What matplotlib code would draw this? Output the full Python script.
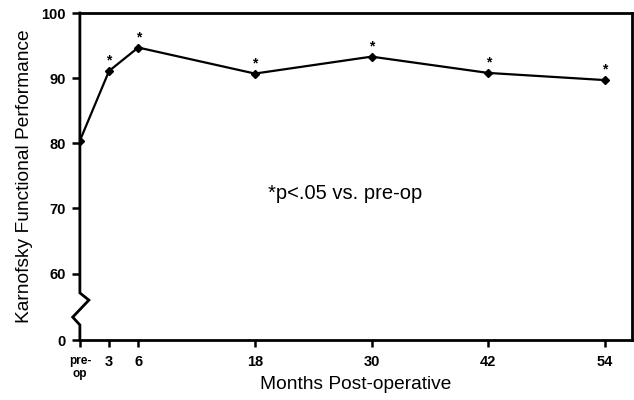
import numpy as np
from matplotlib import pyplot as plt

plt.rcParams['font.family'] = 'sans-serif'
plt.rcParams['font.sans-serif'] = ['Liberation Sans', 'DejaVu Sans']

# Karnofsky score at each follow-up (months after surgery, 0 = pre-op)
months = [0, 3, 6, 18, 30, 42, 54]
kps = [80.4, 91.1, 94.7, 90.7, 93.3, 90.8, 89.7]
significant = [False, True, True, True, True, True, True]

x_ticks = [0, 3, 6, 18, 30, 42, 54]
x_ticklabels = ["pre-\nop", "3", "6", "18", "30", "42", "54"]
y_ticks = [60, 70, 80, 90, 100]

# the axis is broken between 0 and 60; "0" sits just below the break
y_floor = 49.8

fig = plt.figure(figsize=(6.34, 4.0), dpi=100)
ax = fig.add_axes([0.126, 0.15, 0.871, 0.8175])

ax.plot(months, kps, color="black", lw=1.6, marker="D", ms=4, mfc="black", mec="black")
for m, k, s in zip(months, kps, significant):
    if s:
        ax.text(m, k + 1.6, "*", ha="center", va="center", fontsize=10, fontweight="bold")

ax.text(27.3, 72.3, "*p<.05 vs. pre-op", ha="center", va="center", fontsize=14.5)

ax.set_xlim(0, 56.8)
ax.set_ylim(y_floor, 100)

ax.set_xticks(x_ticks)
ax.set_xticklabels(x_ticklabels, fontweight="bold", fontsize=10.5)
for lab in ax.get_xticklabels()[:1]:
    lab.set_fontsize(8.5)
    lab.set_linespacing(1.1)
ax.set_yticks([y_floor] + y_ticks)
ax.set_yticklabels(["0"] + [str(v) for v in y_ticks], fontweight="bold", fontsize=10.5)
ax.tick_params(direction="out", length=6, width=1.8, pad=4)
ax.tick_params(axis="x", length=5, pad=6)

for side in ["top", "right", "bottom"]:
    ax.spines[side].set_linewidth(2)
ax.spines["left"].set_visible(False)

# left spine with zigzag break marker
zx = [0, 0, 0.0163, -0.0130, 0, 0]
zy = [1, 0.144, 0.122, 0.070, 0.046, 0]
ax.plot(zx, zy, transform=ax.transAxes, color="black", lw=2, clip_on=False,
        solid_joinstyle="miter")

ax.set_xlabel("Months Post-operative", fontsize=13.8, labelpad=-3)
ax.set_ylabel("Karnofsky Functional Performance", fontsize=13.8, labelpad=6)

plt.savefig("out.png", dpi=100)
